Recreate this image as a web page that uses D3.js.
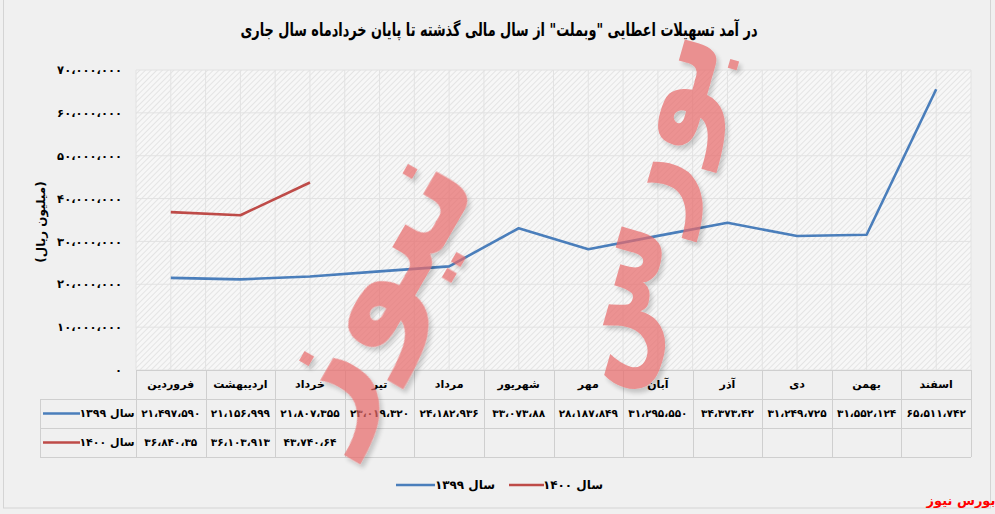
<!DOCTYPE html>
<html><head><meta charset="utf-8">
<script src="https://cdn.jsdelivr.net/npm/d3@7"></script>
<style>
html,body{margin:0;padding:0;background:#f0f0f0;}
text{font-family:"DejaVu Sans",sans-serif;}
</style></head>
<body><svg id="c" width="995" height="514"></svg>
<script>
const months = ["فروردین","اردیبهشت","خرداد","تیر","مرداد","شهریور","مهر","آبان","آذر","دی","بهمن","اسفند"];
const values1399 = [21497590,21156999,21807355,23019320,24182936,33073880,28187849,31295550,34373042,31249725,31552124,65511742];
const values1400 = [36840035,36103913,43740064];
const labels1399 = ["۲۱،۴۹۷،۵۹۰","۲۱،۱۵۶،۹۹۹","۲۱،۸۰۷،۳۵۵","۲۳،۰۱۹،۳۲۰","۲۴،۱۸۲،۹۳۶","۳۳،۰۷۳،۸۸","۲۸،۱۸۷،۸۴۹","۳۱،۲۹۵،۵۵۰","۳۴،۳۷۳،۴۲","۳۱،۲۴۹،۷۲۵","۳۱،۵۵۲،۱۲۴","۶۵،۵۱۱،۷۴۲"];
const labels1400 = ["۳۶،۸۴۰،۳۵","۳۶،۱۰۳،۹۱۳","۴۳،۷۴۰،۶۴"];
const seriesNames = ["سال ۱۳۹۹","سال ۱۴۰۰"];
const yTicks = [0,10000000,20000000,30000000,40000000,50000000,60000000,70000000];
const title = "در آمد تسهیلات اعطایی \"وبملت\" از سال مالی گذشته تا پایان خردادماه سال جاری";
const yTitle = "(میلیون ریال)";
const brand = "بورس نیوز";
const brandWords = ["بورس","نیوز"];

const colors = ["#4a7ebb","#be4b48"];
const fa = s => String(s).replace(/\d/g, d => "۰۱۲۳۴۵۶۷۸۹"[d]);
const svg = d3.select("#c");

const X0=136, X1=971, Y0=70, Y1=370;
const x = d3.scaleBand().domain(months).range([X0,X1]).padding(0);
const bw = x.bandwidth();
const cx = m => x(m)+bw/2;
const y = d3.scaleLinear().domain([0,70000000]).range([Y1,Y0]);

// frame
svg.append("rect").attr("x",3.5).attr("y",-2).attr("width",987).attr("height",510)
  .attr("fill","#f0f0f0").attr("stroke","#d4d4d4");

// hatch pattern
const defs = svg.append("defs");
const pat = defs.append("pattern").attr("id","hatch").attr("patternUnits","userSpaceOnUse")
  .attr("width",4).attr("height",4).attr("patternTransform","rotate(45)");
pat.append("rect").attr("width",4).attr("height",4).attr("fill","#f7f7f7");
pat.append("line").attr("x1",0).attr("y1",0).attr("x2",0).attr("y2",4).attr("stroke","#dcdcdc").attr("stroke-width",1.4);
const shadow = defs.append("filter").attr("id","sh").attr("x","-10%").attr("y","-10%").attr("width","130%").attr("height","130%");
shadow.append("feDropShadow").attr("dx",3).attr("dy",4).attr("stdDeviation",2).attr("flood-color","#000").attr("flood-opacity",0.25);

svg.append("rect").attr("x",X0).attr("y",Y0).attr("width",X1-X0).attr("height",Y1-Y0).attr("fill","url(#hatch)");

// grid
const g = svg.append("g");
g.selectAll("line.h").data(yTicks).join("line")
  .attr("x1",X0).attr("x2",X1).attr("y1",d=>y(d)).attr("y2",d=>y(d))
  .attr("stroke","#e2e2e2").attr("stroke-width",1);
const vx = [];
months.forEach(m=>{vx.push(x(m)); vx.push(cx(m));}); vx.push(X1);
g.selectAll("line.v").data(vx).join("line")
  .attr("x1",d=>d).attr("x2",d=>d).attr("y1",Y0).attr("y2",Y1)
  .attr("stroke","#e2e2e2").attr("stroke-width",1);

// y axis
const yAxis = d3.axisLeft(y).tickValues(yTicks).tickSize(0).tickPadding(0)
  .tickFormat(d => fa(d3.format(",")(d).replace(/,/g,"،")));
const ya = svg.append("g").attr("transform",`translate(122,0)`).call(yAxis);
ya.select(".domain").remove();
ya.selectAll("text").attr("font-size",11.5).attr("font-weight","bold").attr("fill","#000")
  .attr("font-family","DejaVu Sans");

svg.append("text").attr("transform","translate(41,222) rotate(-90)").attr("text-anchor","middle")
  .attr("font-size",12).attr("font-weight","bold").attr("dy","0.35em").text(yTitle);

// lines
const line = d3.line().x((d,i)=>cx(months[i])).y(d=>y(d));
[values1399, values1400].forEach((vals,k)=>{
  svg.append("path").datum(vals).attr("d",line).attr("fill","none")
    .attr("stroke",colors[k]).attr("stroke-width",2.6).attr("stroke-linejoin","round");
});

// table
const T0=370, R1=399, R2=428, R3=457, LX=40;
const tg = svg.append("g").attr("stroke","#cfcfcf").attr("stroke-width",1);
tg.append("line").attr("x1",X0).attr("x2",X1).attr("y1",T0+0.5).attr("y2",T0+0.5);
[R1,R2,R3].forEach(r=>tg.append("line").attr("x1",LX).attr("x2",X1).attr("y1",r+0.5).attr("y2",r+0.5));
tg.append("line").attr("x1",LX+0.5).attr("x2",LX+0.5).attr("y1",R1).attr("y2",R3);
const bx = months.map(m=>x(m)); bx.push(X1);
tg.selectAll("line.vb").data(bx).join("line").attr("x1",d=>Math.round(d)+0.5).attr("x2",d=>Math.round(d)+0.5)
  .attr("y1",T0).attr("y2",R3);

svg.append("g").selectAll("text").data(months).join("text")
  .attr("x",d=>cx(d)).attr("y",(T0+R1)/2).attr("dy","0.35em").attr("text-anchor","middle")
  .attr("font-size",11).attr("font-weight","bold").text(d=>d);
const rows = [labels1399, labels1400];
rows.forEach((labs,k)=>{
  const ry = k===0 ? (R1+R2)/2 : (R2+R3)/2;
  svg.append("g").selectAll("text").data(labs).join("text")
    .attr("x",(d,i)=>cx(months[i])).attr("y",ry).attr("dy","0.35em").attr("text-anchor","middle")
    .attr("font-size",10.5).attr("font-weight","bold").text(d=>d);
  svg.append("line").attr("x1",43).attr("x2",80).attr("y1",ry).attr("y2",ry)
    .attr("stroke",colors[k]).attr("stroke-width",2.6);
  svg.append("text").attr("x",107).attr("y",ry).attr("dy","0.35em").attr("text-anchor","middle")
    .attr("font-size",11).attr("font-weight","bold").text(seriesNames[k]);
});

// legend
const leg = [{x1:396,x2:435,tx:465},{x1:509,x2:544,tx:573}];
leg.forEach((l,k)=>{
  svg.append("line").attr("x1",l.x1).attr("x2",l.x2).attr("y1",485).attr("y2",485)
    .attr("stroke",colors[k]).attr("stroke-width",2.6);
  svg.append("text").attr("x",l.tx).attr("y",485).attr("dy","0.35em").attr("text-anchor","middle")
    .attr("font-size",12).attr("font-weight","bold").text(seriesNames[k]);
});

// title
svg.append("text").attr("x",499).attr("y",30).attr("dy","0.35em").attr("text-anchor","middle")
  .attr("direction","rtl").attr("font-size",18).attr("font-weight","bold")
  .attr("textLength",517).attr("lengthAdjust","spacingAndGlyphs").text(title);

// watermark
const wm = svg.append("g").attr("opacity",0.72).attr("filter","url(#sh)");
const wmPos = [{x:630,y:205,r:-74,s:125},{x:360,y:285,r:-60,s:150}];
brandWords.forEach((w,i)=>{
  const p = wmPos[i];
  wm.append("text").attr("transform",`translate(${p.x},${p.y}) rotate(${p.r})`).attr("text-anchor","middle")
    .attr("dy","0.35em").attr("font-size",p.s).attr("font-weight","bold").attr("fill","#e86a6a").text(w);
});

// brand
svg.append("text").attr("x",961).attr("y",500).attr("dy","0.35em").attr("text-anchor","middle")
  .attr("font-size",13).attr("font-weight","bold").attr("fill","#ff0000").text(brand);
</script></body></html>
